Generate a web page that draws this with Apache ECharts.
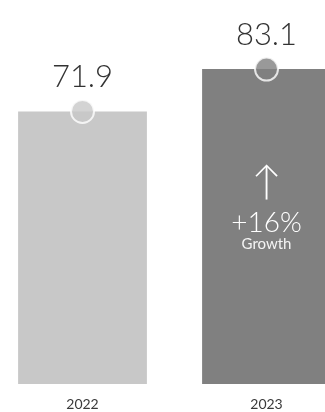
<!DOCTYPE html>
<html>
<head>
<meta charset="utf-8">
<style>
html,body{margin:0;padding:0;background:#fff;}
#chart{width:325px;height:412px;}
</style>
<script src="https://cdn.jsdelivr.net/npm/echarts@6/dist/echarts.min.js"></script>
</head>
<body>
<div id="chart"></div>
<script>
var categories = ['2022', '2023'];
var values = [71.9, 83.1];
var barColors = ['#c8c8c8', '#808080'];
var growthLabel = 'Growth';

var chart = echarts.init(document.getElementById('chart'), null, {renderer: 'canvas'});
var growthPct = Math.round((values[1] / values[0] - 1) * 100);

var option = {
  animation: false,
  grid: {left: -9.5, right: -33.5, top: 5, bottom: 28, containLabel: false, outerBoundsMode: 'none'},
  xAxis: {
    type: 'category',
    data: categories,
    axisLine: {show: false},
    axisTick: {show: false},
    axisLabel: {color: '#3a3a3a', fontSize: 14, fontFamily: 'Lato', margin: 13}
  },
  yAxis: {type: 'value', min: 0, max: 100, show: false, splitLine: {show: false}},
  series: [
    {
      type: 'bar',
      barWidth: '70%',
      data: values.map(function (v, i) { return {value: v, itemStyle: {color: barColors[i]}}; }),
      label: {
        show: true, position: 'top', distance: 19,
        fontSize: 31, fontFamily: 'Lato', fontWeight: 300, color: '#333'
      }
    },
    {
      type: 'scatter',
      symbol: 'circle',
      symbolSize: 23,
      z: 5,
      data: values.map(function (v, i) { return {value: v, itemStyle: {color: barColors[i], borderColor: '#fff', borderWidth: 2}}; })
    }
  ]
};
chart.setOption(option);

var px = null;
try { px = chart.convertToPixel({seriesIndex: 0}, [1, 0]); } catch (e) {}
var cx = (px && isFinite(px[0])) ? px[0] : 267;
chart.setOption({
  graphic: [
    {type: 'text', x: cx, y: 182, z: 100, style: {text: '\u2191', fontSize: 40, fontFamily: 'Lato', fontWeight: 300, fill: '#fff', align: 'center', verticalAlign: 'middle'}},
    {type: 'text', x: cx, y: 223, z: 100, style: {text: '+' + growthPct + '%', fontSize: 28, fontFamily: 'Lato', fontWeight: 300, fill: '#fff', align: 'center', verticalAlign: 'middle'}},
    {type: 'text', x: cx, y: 244, z: 100, style: {text: growthLabel, fontSize: 15, fontFamily: 'Lato', fill: '#f4f4f4', align: 'center', verticalAlign: 'middle'}}
  ]
});
</script>
</body>
</html>
